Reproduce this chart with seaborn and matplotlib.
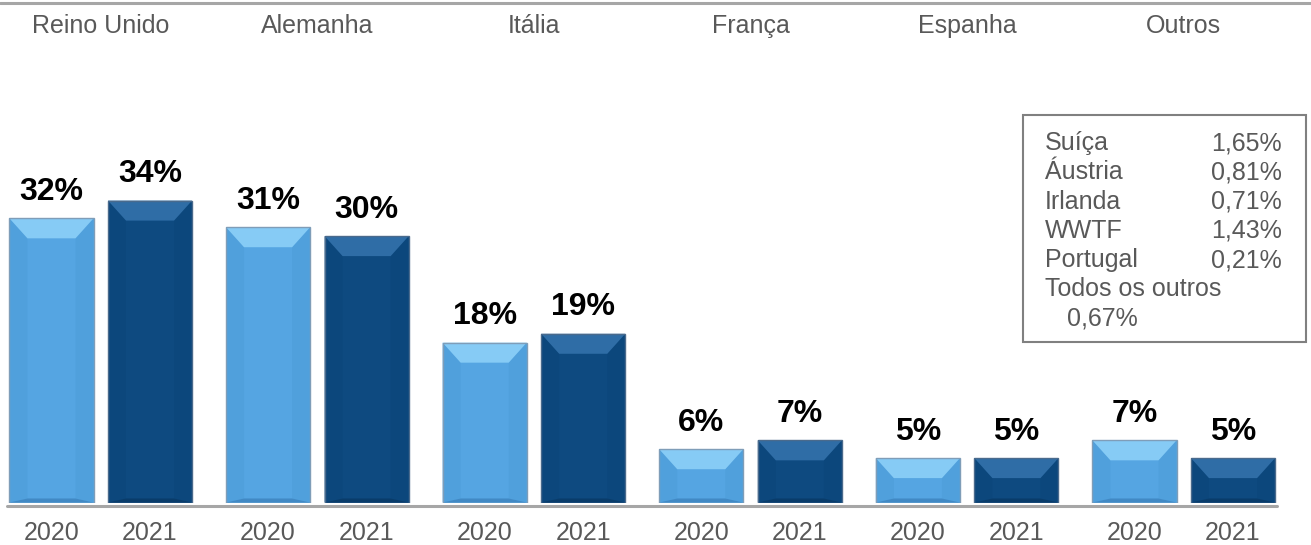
import matplotlib
matplotlib.use("Agg")
import numpy as np
import pandas as pd
import seaborn as sns
import matplotlib.pyplot as plt
from matplotlib.patches import Polygon, Rectangle
from matplotlib.lines import Line2D
from matplotlib.transforms import blended_transform_factory

# ---------------- data ----------------
countries = ["Reino Unido", "Alemanha", "Itália", "França", "Espanha", "Outros"]
years = ["2020", "2021"]
share_2020 = [32, 31, 18, 6, 5, 7]
share_2021 = [34, 30, 19, 7, 5, 5]

other_names = ["Suíça", "Áustria", "Irlanda", "WWTF", "Portugal"]
other_values = ["1,65%", "0,81%", "0,71%", "1,43%", "0,21%"]
rest_name = "Todos os outros"
rest_value = "0,67%"

df = pd.DataFrame({
    "country": countries * 2,
    "year": [years[0]] * len(countries) + [years[1]] * len(countries),
    "share": share_2020 + share_2021,
})

# ---------------- style ----------------
sns.set_theme(style="white")
plt.rcParams["font.family"] = ["Liberation Sans", "DejaVu Sans"]

W, H = 1311, 545
fig = plt.figure(figsize=(W / 100, H / 100), dpi=100)
base_px = 502.5
ax = fig.add_axes([0, (H - base_px) / H, 1, base_px / H])

light, dark = "#55A5E2", "#0E4A80"
sns.barplot(data=df, x="country", y="share", hue="year", palette=[light, dark],
            width=0.91, gap=0.147, saturation=1, legend=False, ax=ax,
            edgecolor="none")

px_y = 8.88
step = 216.6
x0px = 100.75
ax.set_ylim(0, base_px / px_y)
ax.set_xlim(-x0px / step, (W - x0px) / step)
ax.axis("off")

styles = [
    dict(top="#86CBF5", side="#50A0DC", bottom="#4189C4", edge="#7F9DB8"),
    dict(top="#2F6DA6", side="#0C477C", bottom="#093C6A", edge="#4A6A8C"),
]

dx = 18 / step
dy = 20 / px_y
db = 4 / px_y

gray = "#595959"
ytrans = blended_transform_factory(ax.transData, fig.transFigure)

for ci, (cont, yr) in enumerate(zip(ax.containers, years)):
    st = styles[ci]
    for p in cont.patches:
        x0 = p.get_x()
        x1 = x0 + p.get_width()
        t = p.get_height()
        ax.add_patch(Polygon([(x0, t), (x0 + dx, t - dy), (x0 + dx, db), (x0, 0)],
                             closed=True, facecolor=st["side"], edgecolor="none", zorder=3))
        ax.add_patch(Polygon([(x1, t), (x1 - dx, t - dy), (x1 - dx, db), (x1, 0)],
                             closed=True, facecolor=st["side"], edgecolor="none", zorder=3))
        ax.add_patch(Polygon([(x0, 0), (x1, 0), (x1 - dx, db), (x0 + dx, db)],
                             closed=True, facecolor=st["bottom"], edgecolor="none", zorder=3))
        ax.add_patch(Polygon([(x0, t), (x1, t), (x1 - dx, t - dy), (x0 + dx, t - dy)],
                             closed=True, facecolor=st["top"], edgecolor="none", zorder=3))
        ax.add_patch(Rectangle((x0, 0), x1 - x0, t, fill=False,
                               edgecolor=st["edge"], lw=1.0, zorder=4))
        xc = x0 + (x1 - x0) / 2
        ax.annotate(f"{t:.0f}%", (xc, t), xytext=(0, 13.3), textcoords="offset points",
                    ha="center", va="baseline", fontsize=23, fontweight="bold",
                    color="black", zorder=5)
        ax.text(xc, 1 - 540 / H, yr, transform=ytrans, ha="center", va="baseline",
                fontsize=18, color=gray)

for i, c in enumerate(countries):
    ax.text(i, 1 - 33 / H, c, transform=ytrans, ha="center", va="baseline",
            fontsize=18, color=gray)

# lines
fig.add_artist(Line2D([0, 1], [1 - 3 / H] * 2, color="#A6A6A6", lw=2.2,
                      transform=fig.transFigure))
fig.add_artist(Line2D([7 / W, 1277 / W], [1 - 506 / H] * 2, color="#A6A6A6", lw=2.2,
                      transform=fig.transFigure))

# box with other countries
fig.add_artist(Rectangle((1023 / W, 1 - 342 / H), (1306 - 1023) / W, (342 - 115) / H,
                         transform=fig.transFigure, fill=False, edgecolor="#808080", lw=1.5))
line_gap = 29.3
for i, (n, v) in enumerate(zip(other_names, other_values)):
    yb = 1 - (150 + line_gap * i) / H
    fig.text(1045 / W, yb, n, ha="left", va="baseline", fontsize=18, color=gray)
    fig.text(1282 / W, yb, v, ha="right", va="baseline", fontsize=18, color=gray)
k = len(other_names)
fig.text(1045 / W, 1 - (150 + line_gap * k) / H, rest_name, ha="left", va="baseline",
         fontsize=18, color=gray)
fig.text(1067 / W, 1 - (150 + line_gap * (k + 1)) / H, rest_value, ha="left",
         va="baseline", fontsize=18, color=gray)

fig.savefig("out.png", dpi=100, facecolor="white")
